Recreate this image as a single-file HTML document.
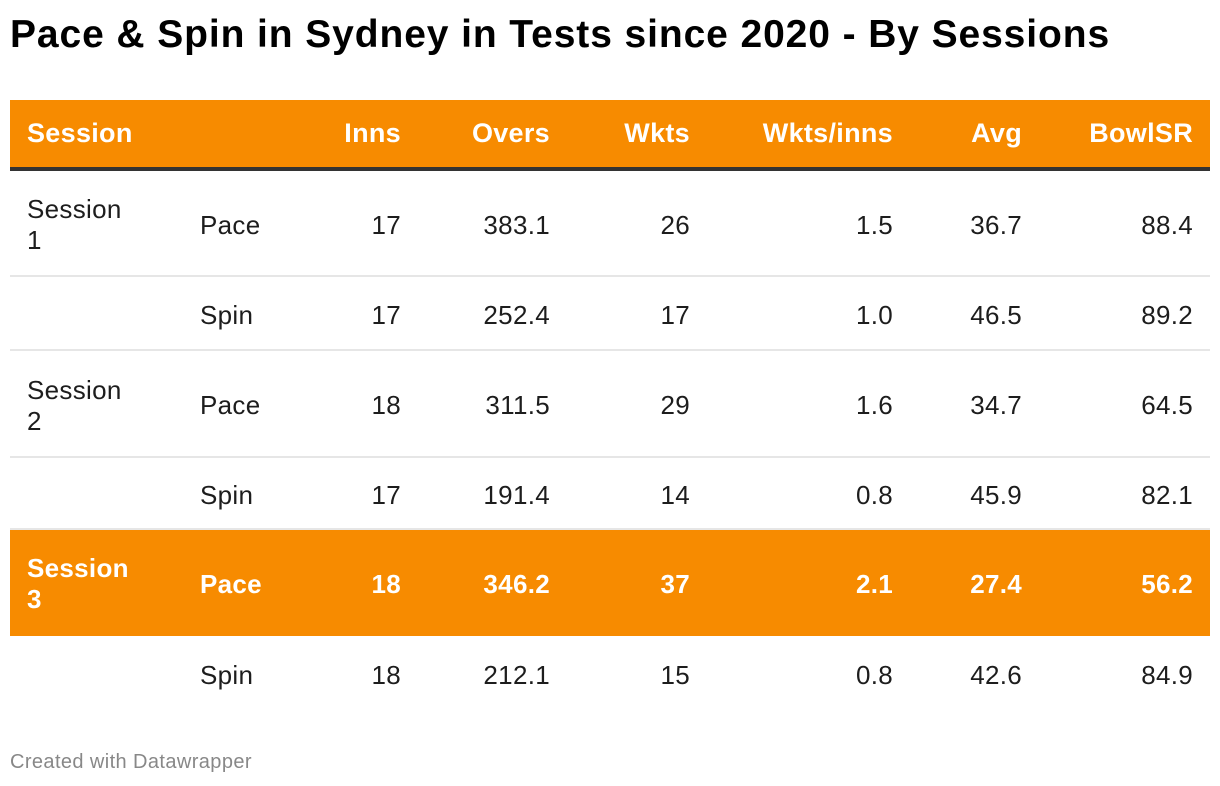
<!DOCTYPE html>
<html><head><meta charset="utf-8"><style>
body{margin:0;width:1220px;height:786px;background:#fff;font-family:"Liberation Sans",Arial,sans-serif;position:relative;overflow:hidden;color:#1d1d1d}
.t{position:absolute;left:10px;top:13px;font-size:39px;font-weight:bold;color:#000;letter-spacing:0.9px}
.row{position:absolute;left:10px;width:1200px;border-bottom:2px solid #e6e6e6}
.c{position:absolute;top:2px;height:100%;display:flex;align-items:center;font-size:26px;letter-spacing:0.3px}
.r{justify-content:flex-end}
.hdr{background:#f78b00;color:#fff;font-weight:bold;border-bottom:4px solid #333}
.hdr .c{font-size:27px;top:0}
.hl{background:#f78b00;color:#fff;font-weight:bold;border-bottom:2px solid #f78b00}
.last{border-bottom:none}
.s{line-height:31px;width:130px}
.f{position:absolute;left:10px;top:751px;font-size:20px;color:#888;letter-spacing:0.4px}
</style></head><body>
<div class="t">Pace &amp; Spin in Sydney in Tests since 2020 - By Sessions</div>
<div id="tbl"></div>
<div class="f">Created with Datawrapper</div>
<script>
const headers=["Session","","Inns","Overs","Wkts","Wkts/inns","Avg","BowlSR"];
const sessions=["Session 1","","Session 2","","Session 3",""];
const types=["Pace","Spin","Pace","Spin","Pace","Spin"];
const inns=["17","17","18","17","18","18"];
const overs=["383.1","252.4","311.5","191.4","346.2","212.1"];
const wkts=["26","17","29","14","37","15"];
const wpi=["1.5","1.0","1.6","0.8","2.1","0.8"];
const avg=["36.7","46.5","34.7","45.9","27.4","42.6"];
const sr=["88.4","89.2","64.5","82.1","56.2","84.9"];
const highlight=4;
const colR=[391,540,680,883,1012,1183];
const tops=[100,171,277,351,458,530,636];
const hts=[67,104,72,105,70,104,74];
const tbl=document.getElementById('tbl');
function cell(row,text,cls,left,right){const d=document.createElement('div');
d.className='c '+cls;d.textContent=text;


if(right!==undefined){d.style.right=(1200-right)+'px';}else{d.style.left=left+'px';}
row.appendChild(d);return d;}
function mkRow(i,cls){const r=document.createElement('div');r.className='row '+cls;
r.style.top=tops[i]+'px';r.style.height=hts[i]+'px';


tbl.appendChild(r);return r;}
const h=mkRow(0,'hdr');
cell(h,headers[0],'',17);
headers.slice(2).forEach((t,j)=>cell(h,t,'r',0,colR[j]));
for(let i=0;i<6;i++){const r=mkRow(i+1,(i==highlight?'hl':'')+(i==5?' last':''));
if(sessions[i]){const p=sessions[i].split(' ');const d=cell(r,'','s',17);d.innerHTML=p[0]+'<br>'+p[1];}
cell(r,types[i],'',190);
[inns[i],overs[i],wkts[i],wpi[i],avg[i],sr[i]].forEach((t,j)=>cell(r,t,'r',0,colR[j]));}
</script>
</body></html>
